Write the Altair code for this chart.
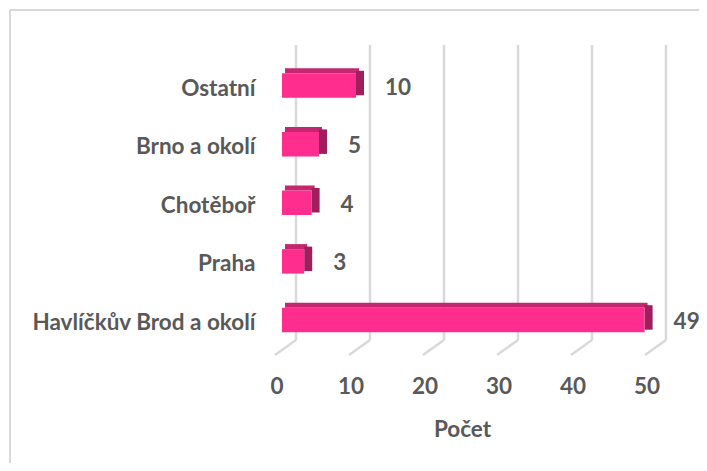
import altair as alt
import pandas as pd

categories = ["Ostatní", "Brno a okolí", "Chotěboř", "Praha", "Havlíčkův Brod a okolí"]
counts = [10, 5, 4, 3, 49]
tick_values = [0, 10, 20, 30, 40, 50]
x_title = "Počet"

FRONT = "#FF2D8E"
TOP = "#C4276F"
SIDE = "#9E1F5C"
GRID = "#D9D9D9"
TEXT = "#595959"
FONT = "Lato"
FS = 22.5

df = pd.DataFrame({"cat": categories, "value": counts})
ticks = pd.DataFrame({"t": tick_values})

xscale = alt.Scale(domain=[0, 50], nice=False, zero=True)
yscale = alt.Scale(domain=categories, range=[11.25, 304.25], paddingInner=0.58, paddingOuter=0.29)

xaxis = alt.Axis(
    values=tick_values,
    title=x_title,
    domain=False,
    ticks=False,
    tickSize=0,
    grid=False,
    labelOffset=-5.5,
    labelPadding=38,
    labelBaseline="alphabetic",
    labelFont=FONT,
    labelFontSize=FS,
    labelFontWeight="bold",
    labelColor=TEXT,
    labelFlush=False,
    titleFont=FONT,
    titleFontSize=FS,
    titleFontWeight="bold",
    titleColor=TEXT,
    titleX=180,
    titleY=81,
    titleBaseline="alphabetic",
)
yaxis = alt.Axis(
    title=None,
    domain=False,
    ticks=False,
    tickSize=0,
    grid=False,
    labelPadding=27,
    labelOffset=3,
    labelFont=FONT,
    labelFontSize=FS,
    labelFontWeight="bold",
    labelColor=TEXT,
    labelLimit=500,
)

W, H = 370, 310
BAR = 24.5

# chart border (decoration)
border_top = alt.Chart(ticks).mark_rule(color=GRID, strokeWidth=1.5).encode(
    x=alt.value(-272), x2=alt.value(417), y=alt.value(-35)
)
border_left = alt.Chart(ticks).mark_rule(color=GRID, strokeWidth=1.5).encode(
    x=alt.value(-272), y=alt.value(-35), y2=alt.value(426)
)

# back wall gridlines
grid_back = alt.Chart(ticks).mark_rule(color=GRID, strokeWidth=2.5, xOffset=14).encode(
    x=alt.X("t:Q", scale=xscale, axis=xaxis, title=x_title),
    y=alt.value(0),
    y2=alt.value(295),
)
# floor diagonals
grid_floor = alt.Chart(ticks).mark_rule(color=GRID, strokeWidth=2.5, xOffset=-7, x2Offset=14).encode(
    x=alt.X("t:Q", scale=xscale, axis=xaxis, title=x_title),
    x2=alt.X2("t"),
    y=alt.value(310),
    y2=alt.value(295),
)

base = alt.Chart(df)

X = alt.X("value:Q", scale=xscale, axis=xaxis, title=x_title)
Y = alt.Y("cat:N", scale=yscale, sort=categories, axis=yaxis, title=None)

top_face = base.mark_bar(color=TOP, size=5, yOffset=-(BAR / 2 + 2.5), xOffset=3, x2Offset=3).encode(
    x=X, x2=alt.datum(0), y=Y,
)

side_face = base.mark_bar(color=SIDE, size=BAR, yOffset=-2.5, xOffset=0, x2Offset=8).encode(
    x=X, x2=alt.X2("value"), y=Y,
)

front_face = base.mark_bar(color=FRONT, size=BAR).encode(x=X, y=Y)

labels = base.mark_text(
    align="left", baseline="middle", dx=29, dy=2,
    font=FONT, fontSize=FS, fontWeight="bold", color=TEXT,
).encode(x=X, y=Y, text=alt.Text("value:Q"))

chart = alt.layer(
    border_top, border_left, grid_back, grid_floor, top_face, side_face, front_face, labels
).properties(
    width=W,
    height=H,
    autosize=alt.AutoSizeParams(type="none"),
    padding={"left": 274, "top": 37, "right": 47, "bottom": 108},
    background="white",
).configure_view(stroke=None)

chart.save("out.html", embed_options={"renderer": "svg", "actions": False})
